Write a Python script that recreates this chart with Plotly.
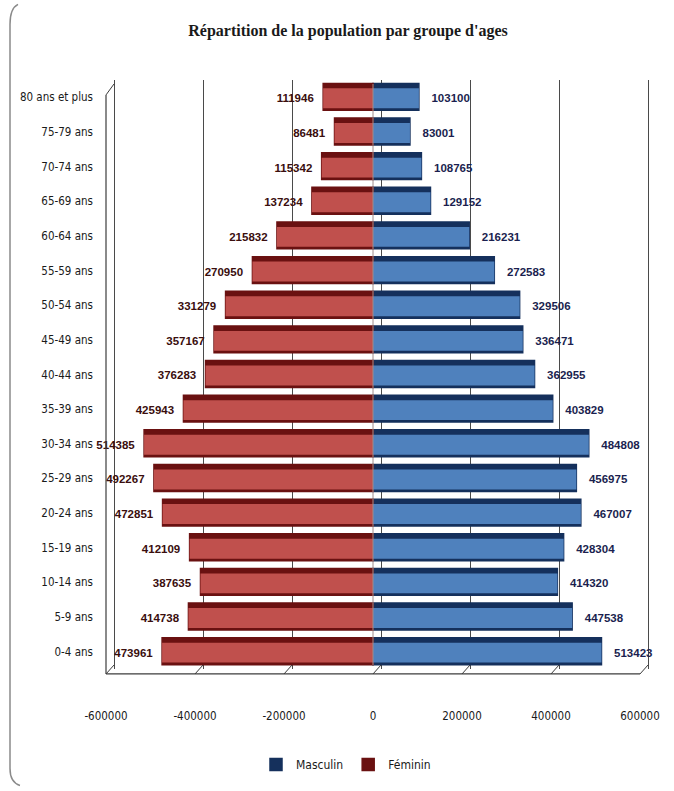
import plotly.graph_objects as go

# Age pyramid: population by age group and sex
age_groups = [
    "80 ans et plus", "75-79 ans", "70-74 ans", "65-69 ans", "60-64 ans",
    "55-59 ans", "50-54 ans", "45-49 ans", "40-44 ans", "35-39 ans",
    "30-34 ans", "25-29 ans", "20-24 ans", "15-19 ans", "10-14 ans",
    "5-9 ans", "0-4 ans",
]
feminin = [
    111946, 86481, 115342, 137234, 215832, 270950, 331279, 357167, 376283,
    425943, 514385, 492267, 472851, 412109, 387635, 414738, 473961,
]
masculin = [
    103100, 83001, 108765, 129152, 216231, 272583, 329506, 336471, 362955,
    403829, 484808, 456975, 467007, 428304, 414320, 447538, 513423,
]
x_ticks = [-600000, -400000, -200000, 0, 200000, 400000, 600000]

W, H = 674, 791
L, R, T, B = 100, 22, 80, 119
PLOT_W = W - L - R
PLOT_H = H - T - B

# front axis range and the "back wall" range (shifted for the 3D look)
X_RANGE = [-613483, 626966]
DEPTH_X = 17978
X2_RANGE = [X_RANGE[0] - DEPTH_X, X_RANGE[1] - DEPTH_X]

MALE_FACE, MALE_EDGE = "#4F81BD", "#15305C"
FEM_FACE, FEM_EDGE = "#C0504D", "#6A1111"
FONT = "DejaVu Sans Condensed, Liberation Sans Narrow, Liberation Sans, sans-serif"
LABEL_FONT = "Liberation Sans, Arial, sans-serif"

def py(y_px):
    """pixel row -> paper y"""
    return (H - B - y_px) / PLOT_H

def px(x_px):
    return (x_px - L) / PLOT_W

NB = "\u00a0"
fem_neg = [-v for v in feminin]

fig = go.Figure()

# darker underlayer (top face / end cap of each bar)
fig.add_trace(go.Bar(
    name="Masculin", y=age_groups, x=masculin, orientation="h",
    width=0.776, offset=-0.374,
    marker=dict(color=MALE_EDGE, line=dict(color=MALE_EDGE, width=1.5)),
    legendgroup="m", hoverinfo="skip",
))
fig.add_trace(go.Bar(
    name="Féminin", y=age_groups, x=fem_neg, orientation="h",
    width=0.776, offset=-0.374,
    marker=dict(color=FEM_EDGE, line=dict(color=FEM_EDGE, width=1.5)),
    legendgroup="f", hoverinfo="skip",
))
# front faces with value labels
fig.add_trace(go.Bar(
    name="Masculin", y=age_groups, x=masculin, orientation="h",
    width=0.575, offset=-0.316,
    marker=dict(color=MALE_FACE, line=dict(width=0)),
    text=[f"{NB*3}{v}" for v in masculin], textposition="outside",
    textfont=dict(family=LABEL_FONT, size=11.5, color="#1B1F4F", weight="bold"),
    cliponaxis=False, constraintext="none", textangle=0,
    legendgroup="m", showlegend=False,
))
fig.add_trace(go.Bar(
    name="Féminin", y=age_groups, x=fem_neg, orientation="h",
    width=0.575, offset=-0.316,
    marker=dict(color=FEM_FACE, line=dict(width=0)),
    text=[f"{v}{NB*2}" for v in feminin], textposition="outside",
    textfont=dict(family=LABEL_FONT, size=11.5, color="#3A0E0E", weight="bold"),
    cliponaxis=False, constraintext="none", textangle=0,
    legendgroup="f", showlegend=False,
))
# empty trace to carry the back-wall gridlines axis
fig.add_trace(go.Scatter(x=[], y=[], xaxis="x2", yaxis="y",
                         showlegend=False, hoverinfo="skip"))

shapes = []
line_c = "#3C3C3C"
y_front = py(677)
y_back = py(668)
# floor: front edge and depth diagonals at each tick
shapes.append(dict(type="line", xref="x", yref="paper",
                   x0=x_ticks[0], x1=x_ticks[-1], y0=y_front, y1=y_front,
                   line=dict(color=line_c, width=1.2)))
for v in x_ticks:
    shapes.append(dict(type="line", xref="x", yref="paper",
                       x0=v, x1=v + DEPTH_X, y0=y_front, y1=y_back,
                       line=dict(color=line_c, width=1)))
# left wall: front edge + top diagonal
shapes.append(dict(type="line", xref="x", yref="paper",
                   x0=x_ticks[0], x1=x_ticks[0], y0=y_front, y1=py(95),
                   line=dict(color=line_c, width=1.2)))
shapes.append(dict(type="line", xref="x", yref="paper",
                   x0=x_ticks[0], x1=x_ticks[0] + DEPTH_X, y0=py(95), y1=py(84),
                   line=dict(color=line_c, width=1)))
# thin divider line at zero over the bars
shapes.append(dict(type="line", xref="x", yref="paper", layer="above",
                   x0=0, x1=0, y0=py(668), y1=py(84),
                   line=dict(color="#A08C8C", width=1)))
# chart frame (left rounded edge)
shapes.append(dict(
    type="path", xref="paper", yref="paper",
    path=(f"M {px(18)} {py(4)} Q {px(10)} {py(8)} {px(10)} {py(24)} "
          f"L {px(10)} {py(772)} Q {px(10)} {py(786)} {px(20)} {py(789)}"),
    line=dict(color="#8A8A8A", width=1.5),
))

fig.update_layout(
    width=W, height=H,
    margin=dict(l=L, r=R, t=T, b=B, pad=0),
    paper_bgcolor="white", plot_bgcolor="white",
    barmode="overlay",
    title=dict(
        text="Répartition de la population par groupe d'ages",
        x=px(348), xref="paper", xanchor="center",
        y=1 - 30 / H, yref="container", yanchor="middle",
        font=dict(family="Liberation Serif, serif", size=16,
                  color="#1A1A1A", weight="bold"),
    ),
    xaxis=dict(
        range=X_RANGE, tickvals=x_ticks, ticktext=[str(v) for v in x_ticks],
        showgrid=False, zeroline=False, showline=False, ticks="",
        ticklabelstandoff=38,
        tickfont=dict(family=FONT, size=11.5, color="#1A1A1A"),
    ),
    xaxis2=dict(
        overlaying="x", range=X2_RANGE, tickvals=x_ticks,
        showgrid=True, gridcolor="#4A4A4A", gridwidth=1,
        showticklabels=False, zeroline=False, showline=False, ticks="",
        side="bottom",
    ),
    yaxis=dict(
        categoryorder="array", categoryarray=age_groups[::-1],
        showgrid=False, zeroline=False, showline=False, ticks="",
        ticklabelstandoff=6,
        tickfont=dict(family=FONT, size=11.5, color="#1A1A1A"),
    ),
    legend=dict(
        orientation="h", x=px(346), xanchor="center",
        y=py(768), yanchor="middle",
        font=dict(family=FONT, size=12, color="#1A1A1A"),
        itemwidth=30, tracegroupgap=0, bgcolor="rgba(0,0,0,0)",
    ),
    shapes=shapes,
    showlegend=True,
)

fig.write_html("out.html")
